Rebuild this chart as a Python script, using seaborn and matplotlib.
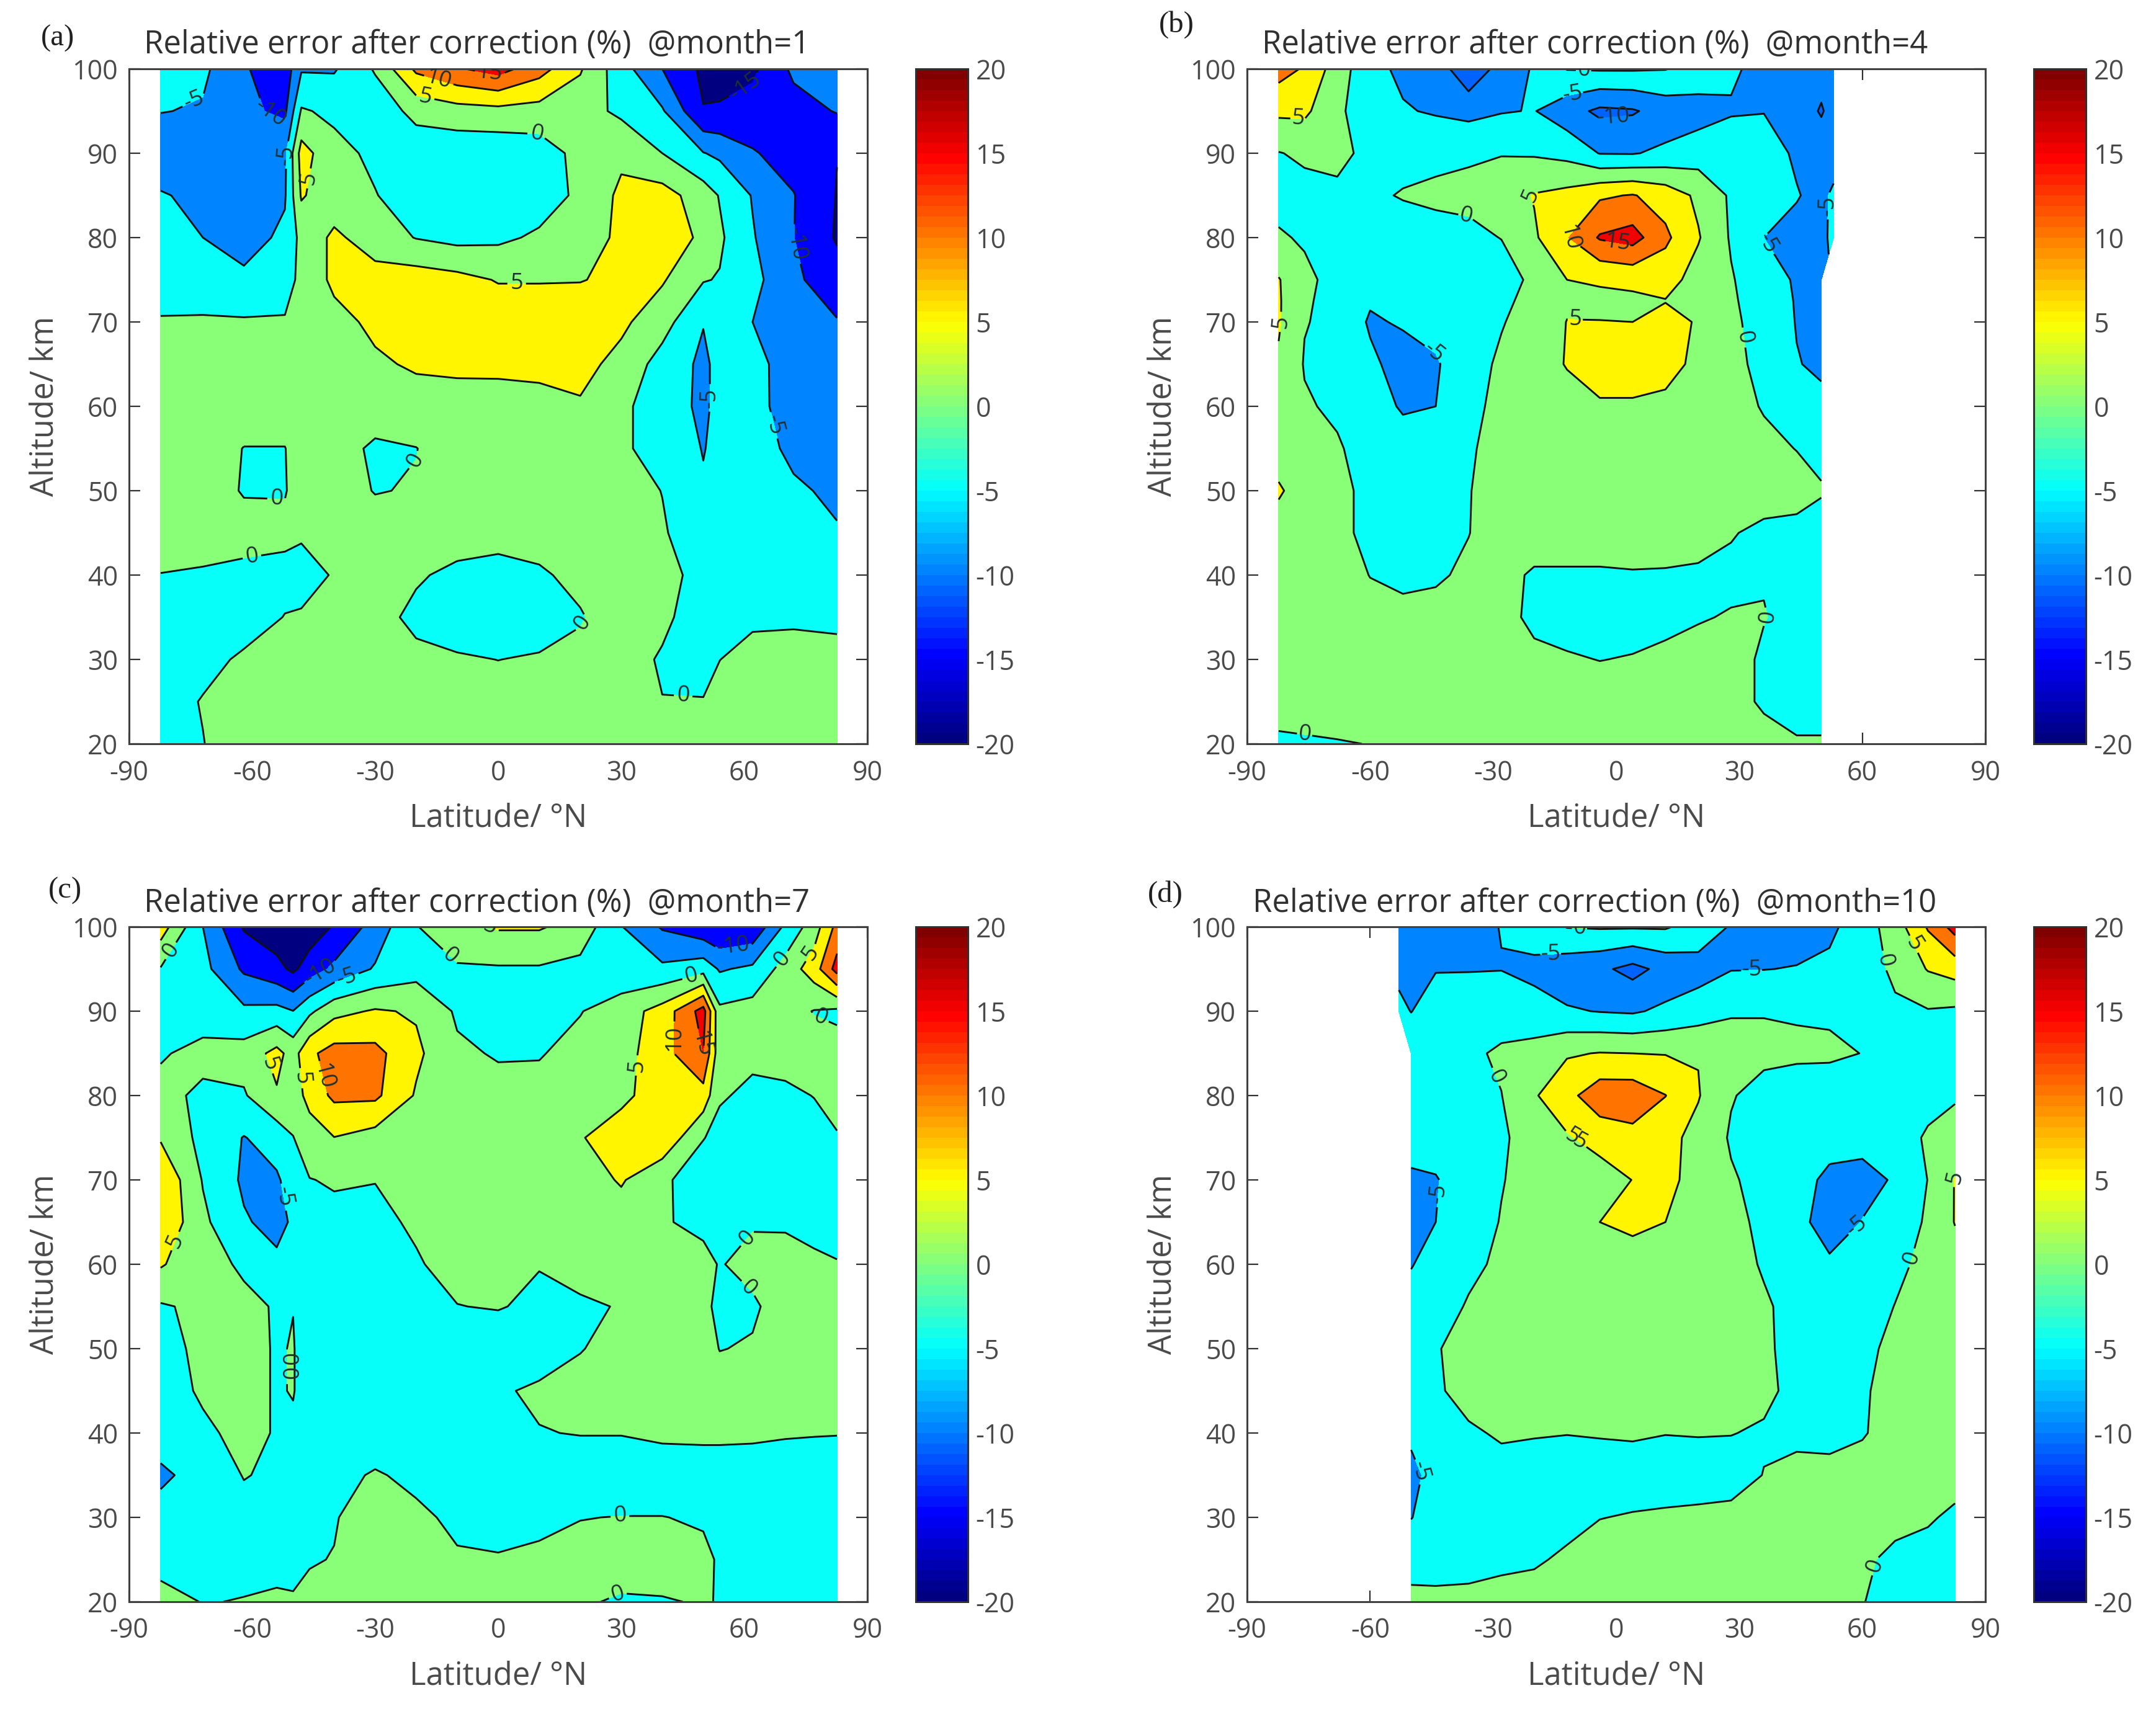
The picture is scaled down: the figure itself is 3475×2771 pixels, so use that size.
import numpy as np
import matplotlib
matplotlib.use("Agg")
import matplotlib.pyplot as plt
import seaborn as sns
from matplotlib.cm import ScalarMappable
from matplotlib.colors import LinearSegmentedColormap, Normalize

# grids: rows go from the top of the panel down
ALT = [100, 95, 90, 85, 80, 75, 70, 65, 60, 55, 50, 45, 40, 35, 30, 25, 20]
ALT_B = [100, 95, 90, 85, 80, 75, 72.5, 70, 65, 60, 55, 50, 45, 40, 35, 30, 25, 20]

LAT_A = [-82.3, -72, -62, -52, -48, -40, -30, -20, -10, 0, 10, 20, 30, 40, 50, 54, 62, 72, 82.6]
ERR_A = [
    [-3, -4, -9.5, -13, -5.5, -5.5, 0.5, 11, 14.5, 17, 12, 5.5, -3, -10, -16, -16, -16, -9, -8],
    [-4.8, -5.5, -9, -11, 0.5, -1, -3, 1.5, 3, 3.5, 3, 2, -1, -4.5, -14.8, -14.7, -13, -12, -9.7],
    [-9, -8, -8, -6, 7, 1.5, -1, -3, -3.5, -3.5, -2.5, 1.5, 4, 0, -4.8, -6, -9.6, -12, -14.9],
    [-4.5, -6.5, -7.5, -5.5, 5.5, 2, 0.2, -2.5, -3.5, -3.5, -2.5, 1, 6, 7, 2.5, -0.3, -5.3, -9.8, -15.2],
    [-2.5, -5, -7, -4, 1.5, 6, 2.5, -0.2, -1.5, -1, 0.8, 2.5, 6, 8, 4, 0.8, -4.6, -9.9, -15.5],
    [-1.8, -2.5, -4, -2.5, 1.5, 6, 7, 7.5, 6.5, 4.7, 4.7, 4.8, 6, 5.5, 0.3, -0.3, -3.5, -9, -13],
    [0.3, 0.5, 0.5, 0.5, 0.7, 3.5, 6, 7.5, 7.5, 8, 8, 8, 6, 2, -4.8, -2.5, -5, -7.5, -9.7],
    [1.5, 1.5, 2, 2, 2, 3, 4.3, 5.6, 6, 5.8, 5.8, 6.5, 3.5, -2, -6, -3.5, -4, -6.5, -9],
    [1.5, 1.5, 2, 2, 2, 2.5, 2.5, 3, 3, 3.5, 4, 4.5, 1, -2.5, -6, -3.5, -4.3, -6, -8],
    [2, 2, -0.1, -0.1, 2, 2, -0.8, -0.1, 2.5, 3, 3, 3, 0.8, -2, -5.2, -3.8, -3.8, -5.6, -7.5],
    [2, 2, -0.3, -0.2, 1.5, 2, -0.2, 0.3, 2.5, 3, 3, 3, 2, -0.1, -4.5, -3.8, -3.8, -4.6, -5.5],
    [1, 1.2, 1.5, 0.8, 0.5, 2, 2, 2, 2, 1.5, 1.5, 2.5, 3, 0.5, -3, -3.5, -3.5, -4, -4.8],
    [-0.05, -0.3, -1, -1, -1.5, 0.3, 1.5, 0.5, -1, -1.5, -0.5, 1, 2, 1.5, -1.5, -3, -3.5, -3.5, -4],
    [-3, -3.5, -1.5, 0.1, 0.4, 1.5, 1.5, -1, -2.5, -3, -2.5, -0.3, 2, 1, -2.5, -2, -0.8, -0.8, -0.8],
    [-2, -1, 0.5, 1, 1.5, 2, 2, 1, 0.5, -0.05, 0.5, 1, 2, -0.5, -2.5, -0.05, 1.5, 2, 1.2],
    [-1.5, 0.2, 1.5, 2, 2, 2.5, 2, 2, 2, 2, 2, 2, 2, 0.1, 0.3, 1.5, 2, 2, 2],
    [-1, -0.1, 2, 2, 2, 2, 2, 2, 2, 2, 2, 2, 2, 2, 2, 2, 2, 2, 2],
]

LAT_B = [-82.3, -76, -68, -60, -52, -44, -36, -28, -20, -12, -4, 4, 12, 20, 28, 36, 44, 50, 53]
n = np.nan
ERR_B = [
    [12, 9.5, 2.5, -3.5, -6, -7, -14, -8, -4.5, 0.2, 0.5, 0.5, 0.2, -2, -4.5, -6, -7, -8, -8],
    [6, 6, 1, -3, -4.6, -5.5, -6.5, -5.3, -4.8, -8, -11, -10.5, -8, -7, -5.3, -5.1, -7, -10.5, -8],
    [-0.2, 0.8, 1, -1, -1, -1, -0.5, -0.2, -0.5, -1.5, -5.2, -5.3, -4, -2.5, -3, -3.5, -5.5, -7, -7],
    [-1.5, -1.5, -0.8, -0.5, 0.2, 0.8, 1, 2.5, 5.3, 6.5, 9.3, 10.3, 8, 4, -0.7, -3.5, -4.8, -6, -4.2],
    [0.5, -0.5, -2, -2, -1.5, -1.5, -1, 0.1, 4.3, 9.7, 15.5, 17, 11, 5.4, -0.5, -5, -6, -6, -4],
    [5.3, 1, -1.5, -3, -3, -3, -3, -2, 1, 5, 5.5, 6.2, 7, 3, 0.4, -3, -5.5, -6.5, n],
    [5.5, 0.5, -1.3, -4.5, -3.8, -3.3, -2.5, -1, 1.5, 4.3, 4, 4, 4.8, 3.8, 0.7, -2.5, -5.3, -6.5, n],
    [5.5, 0.2, -1, -5.6, -4.5, -3.5, -2, -0.3, 2, 5.1, 5.1, 5, 7, 4.5, 1, -2, -5.2, -6.5, n],
    [4.4, -0.3, -1.5, -4, -7, -5.5, -2, 0.8, 2.5, 5.3, 7, 7, 6.5, 4, 1.5, -1.5, -4.8, -5.7, n],
    [2, 0.5, -0.8, -3, -5.5, -5, -1, 1, 2, 3, 4.5, 4.5, 4, 3, 1.5, -0.3, -3, -4, n],
    [2, 2, 0.5, -2, -3, -3, -0.5, 1.5, 2.5, 2.5, 2.5, 2.5, 2.5, 2.5, 2, 1, -0.1, -1, n],
    [5.8, 2, 1.5, -1.5, -2.5, -2, -0.2, 2, 2.5, 2.5, 2.5, 2.5, 2.5, 2.5, 2, 2, 1.5, 0.3, n],
    [2, 2, 1.5, -1.5, -2, -2, -0.1, 2, 2, 2, 2, 2, 2, 1.5, 0.3, -1, -1.2, -1.5, n],
    [2, 2, 2, -0.1, -0.8, -0.6, 0.8, 1.2, -0.5, -0.5, -0.5, -0.3, -0.4, -0.6, -1, -0.3, -1, -1.6, n],
    [2, 2, 2, 1.5, 1, 1.5, 2, 1.5, -1, -2, -2.2, -2, -1.2, -0.3, 0.3, 0.2, -1.5, -2, n],
    [2.5, 2.5, 2.5, 2.5, 2.5, 2.5, 2.5, 2, 1, 0.5, -0.1, 0.3, 1, 1.5, 2, -0.8, -2, -2, n],
    [2.3, 2.5, 2.5, 2.5, 2.5, 2.5, 2.5, 2.5, 2.5, 2.5, 2.5, 2.5, 2.5, 2.5, 2, -0.8, -2, -2, n],
    [-1, -0.7, -0.3, 0.1, 2, 2, 2, 2, 2, 2, 2, 2, 2, 2, 2, 2, 0.5, 0.5, n],
]

LAT_C = [-82.3, -72, -62, -54, -50, -46, -40, -30, -20, -10, 0, 10, 20, 30, 40, 50, 54, 62, 70, 77, 82.6]
ERR_C = [
    [7.5, -5, -15.5, -18, -19, -18, -14.5, -8, -0.2, 3, 5.5, 5.5, 3, -4.8, -10.5, -13.5, -15, -14, -4, 2.5, 11.5],
    [-0.3, -3.5, -10.8, -13.5, -16, -12.5, -9, -4.5, -2, -0.5, -0.5, -0.5, -1.5, -3.5, -4, -2, -5.5, -4, 2, 7.5, 17],
    [-1.5, -2.5, -4, -3.5, -4.9, -1, 3.5, 5.5, 4.5, -0.7, -2, -1.8, -0.2, 2.5, 7, 17, 1, 2, 2, -0.2, -1],
    [-0.5, 1.5, 2, 6.5, 3, 9, 12, 11.5, 6, 0.8, -0.4, -0.3, 1.5, 3, 8, 15, 1.5, 1, 1.5, 2, 2],
    [1.5, -1, -0.5, 4.5, 2, 7, 11, 11, 4.5, 2, 1.5, 1.5, 2, 4.3, 6.5, 8, 0.5, -1, -0.8, 0.1, 1.5],
    [4.5, -1.5, -5.2, -3, -0.1, 2, 4.9, 3, 2, 2, 2, 2, 4.8, 6.5, 9, 0.2, -1.5, -2.5, -2.5, -1.5, -0.3],
    [9.5, -0.3, -5.8, -5.6, -3, -0.1, 0.3, 0.1, 2, 2.5, 2.5, 2.5, 2.5, 5.5, 1, -3, -3, -3, -3, -3, -3],
    [9.5, 1, -4.5, -6.5, -4.3, -3, -0.8, -1, 0.6, 2.5, 2.5, 2.5, 2.5, 2.5, 0.3, -0.8, -0.3, -0.3, -0.5, -1, -1.5],
    [5.5, 1.5, -0.6, -4, -3.5, -3, -2.5, -2, -0.4, 1.5, 1.5, 0.2, 2, 2.5, 2.5, 1, -0.2, 1, 1.5, 0.6, 0.2],
    [-0.5, 1, 0.9, -0.3, -0.1, -2.5, -3, -3, -2, -0.1, 0.3, -1, -0.8, 0.3, 2, 1, -1, -0.5, 1.5, 1.5, 1.5],
    [-1.5, 1, 2, -0.5, 0.3, -3, -3, -3, -3, -3, -3, -2.5, -0.2, 1.5, 2, 1.5, -0.1, 0.3, 2, 2, 2],
    [-2, 0.6, 2, -0.5, 0.3, -3, -3, -3, -3, -3, -0.6, 0.8, 1.5, 2, 2, 2, 1.5, 1.5, 1.5, 1.5, 1.5],
    [-2.5, -0.8, 1.2, -0.3, -1, -3, -3, -3, -3, -3, -1.5, -0.2, 0.2, 0.2, 1, 1.2, 1.2, 1, 0.5, 0.3, 0.2],
    [-6, -3, 0.2, -0.7, -1.5, -2, -1.5, 0.5, -1.2, -2.5, -3, -3, -3, -3, -3, -3, -3, -3, -3, -3, -3],
    [-3, -2, -1.5, -1.5, -1.5, -1, -0.2, 1.5, 1, -1, -1.5, -1, -0.1, 0.1, 0.1, -0.5, -1, -2.5, -3, -3, -3],
    [-2, -2, -1.5, -1, -0.6, -0.2, 0.1, 2, 1.5, 0.5, 0.3, 0.8, 1.2, 2, 2, 1, -0.5, -2, -3, -3, -3],
    [2, -0.2, 0.2, 0.5, 0.2, 0.7, 1.5, 2, 2, 2, 2, 2, 0.5, -0.5, -0.3, 0.3, -0.2, -2, -3, -3, -3],
]

LAT_D = [-53, -50, -44, -36, -28, -20, -12, -4, 4, 12, 20, 28, 36, 44, 52, 60, 68, 76, 82.6]
ERR_D = [
    [-6, -7, -7, -6, -4.9, -3, 0.2, 0.5, 0.5, 0.5, -2, -5.4, -6.5, -7, -6, -2.5, 2.5, 10.5, 17],
    [-6, -8, -5.2, -5.2, -5.1, -6, -8, -9, -11.5, -8.5, -7, -5.2, -5.1, -4.8, -4, -2.5, 1, 5.3, 7],
    [-4, -5.1, -3, -2.5, -2.5, -3.5, -4.5, -5.2, -5.6, -4, -2.5, -0.3, -0.2, -0.5, -0.8, -1, -0.8, -0.3, -0.8],
    [n, -2, -1.5, -1, 0.8, 2, 4.5, 5.2, 5, 4.8, 4.8, 1.5, 1, 1, 1, -0.1, -2, -2.5, -3],
    [n, -2.5, -2, -1.5, -0.1, 4.5, 8.5, 13, 13, 10.1, 5.3, 0.3, -1.5, -3, -3.5, -3.5, -3, -2, -0.5],
    [n, -3, -3, -1.5, -0.5, 1.5, 4.5, 7, 8.5, 6.5, 3.5, -0.5, -2.5, -3.5, -4, -4, -3, 0.8, 2],
    [n, -5.8, -5.3, -2.5, -0.2, 1.5, 2, 2.5, 5.1, 6.5, 3, 0.5, -1.5, -4, -5.6, -6, -4.7, 0.1, 5.2],
    [n, -6.5, -5, -2, 0.2, 1.5, 2.5, 5, 6, 5, 3, 1, -0.8, -4, -6.5, -4.9, -3, 0.7, 5.2],
    [n, -5.2, -3.5, -1, 0.8, 2, 2.5, 3, 3, 2.5, 2, 1.2, -0.3, -2.5, -4.5, -3.5, -1, 1.2, 3],
    [n, -3.5, -2, 0.4, 1.5, 2, 2, 2, 2, 2, 2, 2, 0.4, -1, -3, -2, 0.1, 1, 2],
    [n, -3, -0.2, 1, 2, 2, 2, 2, 2, 2, 2, 2, 0.5, -1, -2.5, -1, 1, 1.5, 2],
    [n, -3, -0.6, 1.5, 2, 2, 2, 2, 2, 2, 2, 2, 0.8, -1, -2, -0.5, 1.5, 2, 2],
    [n, -4, -2, -0.6, 0.5, 0.3, 0.1, 0.3, 0.5, 0.1, 0.2, 0.1, -0.4, -0.8, -1, -0.3, 1.5, 2, 2],
    [n, -6.5, -3, -2, -1.5, -2, -2, -2, -2, -2, -1.8, -1.5, 0.1, 1, 1, 1.5, 2, 1.5, 1],
    [n, -5.1, -3.5, -3, -2.5, -2, -1.5, -0.1, 0.3, 0.6, 0.8, 1, 1.5, 2, 2, 1.5, 1, 0.3, -0.5],
    [n, -3, -2.5, -2, -1.2, -0.6, 0.8, 2, 2, 2, 2, 2, 2, 2, 2, 0.6, -0.8, -1, -2],
    [n, 2, 1.5, 1.5, 2, 2, 2, 2, 2, 2, 2, 2, 2, 2, 2, 0.1, -1, -1.5, -2],
]

# where the contour labels sit (lat, alt)
LABELS_A = [(-73.4, 95.3), (-55, 95.6), (-51.5, 89.8), (-46, 87), (4.5, 74), (-18, 96), (-15, 97.7), (-2, 99.6),
            (9.5, 93.7), (-19, 53), (-54, 49.6), (-60, 42), (21.5, 34), (45, 24.8), (52, 61), (69, 58), (71, 79),
            (62.5, 95.6)]
LABELS_B = [(-77.6, 94), (-81, 70), (-36.7, 82.4), (-25, 84), (-12, 79.2), (0.4, 79.5), (-10, 70.5), (31.6, 68.2),
            (-45, 65.8), (37, 79.4), (50.7, 83.8), (-10.6, 97), (-8, 99), (-0.5, 92.5), (40, 35.4), (-76, 21)]
LABELS_C = [(-78, 96.5), (-43.6, 94.8), (-37, 94), (-6, 99.2), (-11, 97), (-56, 83.7), (-49, 82), (-44, 82),
            (-52, 68), (-75.5, 62), (-52, 48.7), (-53, 47), (47, 94.3), (45, 86.8), (33, 83.6), (49.3, 86),
            (57.6, 96.6), (69, 96.3), (76, 97), (78.7, 89.5), (58.8, 64), (61, 57.2), (29.7, 30), (29, 21)]
LABELS_D = [(-9, 99), (-16, 97), (33, 94.5), (64, 95.8), (71, 97.3), (-30, 82), (-9, 77), (-10.4, 72.7), (-45, 68.5),
            (-49, 35), (59.5, 63.8), (71, 61), (81, 71), (63.3, 24.2)]

MONTHS = [1, 4, 7, 10]
PANEL_LETTERS = ["(a)", "(b)", "(c)", "(d)"]
LEVELS = [-20, -15, -10, -5, 0, 5, 10, 15, 20]
LAT_TICKS = [-90, -60, -30, 0, 30, 60, 90]
ALT_TICKS = [20, 30, 40, 50, 60, 70, 80, 90, 100]
CBAR_TICKS = [-20, -15, -10, -5, 0, 5, 10, 15, 20]

W, H = 3475, 2771
TEXT = "#4a4a4a"

sns.set_theme(style="white")
plt.rcParams["font.family"] = ["Open Sans", "DejaVu Sans"]
plt.rcParams["axes.unicode_minus"] = False

# matlab flavour of jet, matplotlib's own is greener around cyan and yellow
cmap = LinearSegmentedColormap.from_list("jet64", [
    (0, "#000080"), (0.125, "#0000ff"), (0.375, "#00ffff"),
    (0.625, "#ffff00"), (0.875, "#ff0000"), (1, "#800000"),
], N=64)


def band_colors(t_minus10):
    # each band takes the colour of its lower level, as contourf does in the source figure
    ts = [(v + 20) / 40 + 0.015 for v in LEVELS[:-1]]
    ts[1] = t_minus10
    return sns.color_palette([cmap(t) for t in ts])


def box(x0, y0, x1, y1):
    return [x0 / W, 1 - y1 / H, (x1 - x0) / W, (y1 - y0) / H]


fig = plt.figure(figsize=(W / 100, H / 100), dpi=100)

panels = [
    (LAT_A, ALT, ERR_A, LABELS_A, 208, 111, 0.14, (66, 62), 232),
    (LAT_B, ALT_B, ERR_B, LABELS_B, 2010, 111, 0.233, (1868, 40), 2034),
    (LAT_C, ALT, ERR_C, LABELS_C, 208, 1494, 0.14, (78, 1436), 232),
    (LAT_D, ALT, ERR_D, LABELS_D, 2010, 1494, 0.233, (1850, 1442), 2019),
]

for i, (lat, alt, err, labels, x0, y0, t_low, letter_xy, title_x) in enumerate(panels):
    ax = fig.add_axes(box(x0, y0, x0 + 1190, y0 + 1088))
    z = np.array(err, dtype=float)
    ax.contourf(lat, alt, z, levels=LEVELS, colors=band_colors(t_low))
    lines = ax.contour(lat, alt, z, levels=LEVELS, colors="#101010", linewidths=2.1, linestyles="solid")
    ax.clabel(lines, manual=labels, fmt="%d", fontsize=26, inline=True, inline_spacing=6, colors="#203030")

    ax.set_xlim(-90, 90)
    ax.set_ylim(20, 100)
    ax.set_xticks(LAT_TICKS)
    ax.set_yticks(ALT_TICKS)
    ax.tick_params(direction="in", length=13, width=1.6, color="#303030", labelcolor=TEXT, labelsize=31,
                   top=True, right=True, bottom=True, left=True, pad=13)
    ax.tick_params(axis="x", pad=18)
    for s in ax.spines.values():
        s.set_visible(True)
        s.set_color("#404040")
        s.set_linewidth(2.2)
    ax.set_xlabel("Latitude/ °N", fontsize=36.5, color=TEXT)
    ax.set_ylabel("Altitude/ km", fontsize=36.5, color=TEXT)
    ax.xaxis.set_label_coords(0.5, -0.087)
    ax.yaxis.set_label_coords(-0.093, 0.5)

    fig.text(title_x / W, 1 - (y0 - 38) / H, f"Relative error after correction (%)  @month={MONTHS[i]}",
             fontsize=36.5, color="#303030", va="center", ha="left")
    fig.text(letter_xy[0] / W, 1 - letter_xy[1] / H, PANEL_LETTERS[i], fontsize=35, color="#202020",
             family="Liberation Serif", va="center", ha="left")

    cax = fig.add_axes(box(x0 + 1268, y0, x0 + 1352, y0 + 1088))
    cb = fig.colorbar(ScalarMappable(Normalize(-20, 20), cmap), cax=cax, ticks=CBAR_TICKS)
    cb.ax.tick_params(direction="in", length=11, width=2, color="#602010", labelcolor=TEXT, labelsize=31, pad=9)
    cb.outline.set_edgecolor("#303030")
    cb.outline.set_linewidth(2.2)

fig.savefig("out.png", dpi=100)
